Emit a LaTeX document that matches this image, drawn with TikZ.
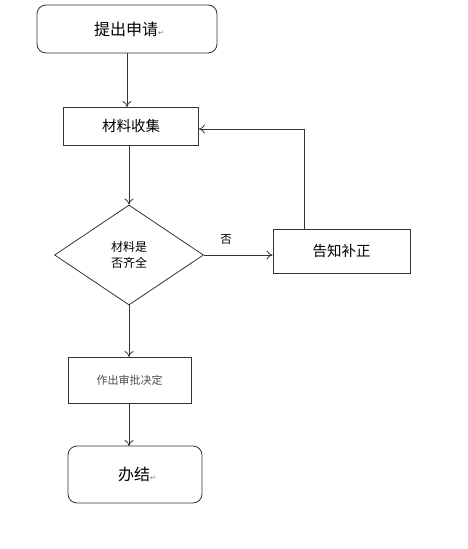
\documentclass[tikz,border=0pt]{standalone}
\usepackage{fontspec}
\setmainfont{Liberation Sans}
\newfontfamily\cjk{Noto Sans CJK SC}
\newfontfamily\symf{DejaVu Sans}
\usetikzlibrary{arrows.meta,shapes.geometric}
\begin{document}
\begin{tikzpicture}[x=1pt,y=-1pt,
  line/.style={draw=black!80,line width=0.8pt},
  arr/.style={line,-{To[length=6pt,width=9pt,line width=0.8pt]}},
  rbox/.style={line,rounded corners=9pt,inner sep=0pt},
  sbox/.style={line,inner sep=0pt},
  pmark/.style={text=black!55}
]
\useasboundingbox (0,0) rectangle (468,549);
\node[rbox,minimum width=180pt,minimum height=48pt] (apply) at (127,29) {};
\node[font=\cjk\fontsize{16}{18}\selectfont] (applyt) at (129,29) {提出申请\textcolor{black!55}{\symf\fontsize{7}{8}\selectfont ↵}};
\node[sbox,minimum width=135pt,minimum height=38pt,font=\cjk\fontsize{14.5}{16}\selectfont] (collect) at (131,126) {材料收集};
\node[line,diamond,minimum width=149pt,minimum height=100pt,inner sep=0pt,aspect=1.49,
  font=\cjk\fontsize{12}{16}\selectfont,align=center] (check) at (129,255) {材料是\\否齐全};
\node[sbox,minimum width=137pt,minimum height=44pt,font=\cjk\fontsize{14.5}{16}\selectfont] (notify) at (341.5,251) {告知补正};
\node[sbox,minimum width=123pt,minimum height=46pt,font=\cjk\fontsize{11}{12}\selectfont,text=black!70] (decide) at (129.5,380) {作出审批决定};
\node[rbox,minimum width=134pt,minimum height=57pt] (done) at (135,474.5) {};
\node[font=\cjk\fontsize{16}{18}\selectfont] (donet) at (137,474.5) {办结\textcolor{black!55}{\symf\fontsize{7}{8}\selectfont ↵}};
\node[font=\cjk\fontsize{11.5}{12}\selectfont] (no) at (226,239) {否};

\draw[arr] (127,53) -- (127,107);
\draw[arr] (129,145) -- (check.north);
\draw[arr] (check.east) -- (check.east -| notify.west);
\coordinate (up) at (304,129);
\draw[arr] (304,229) -- (up) -- (collect.east |- up);
\draw[arr] (check.south) -- (129,357);
\draw[arr] (129,403) -- (129,446);
\end{tikzpicture}
\end{document}
